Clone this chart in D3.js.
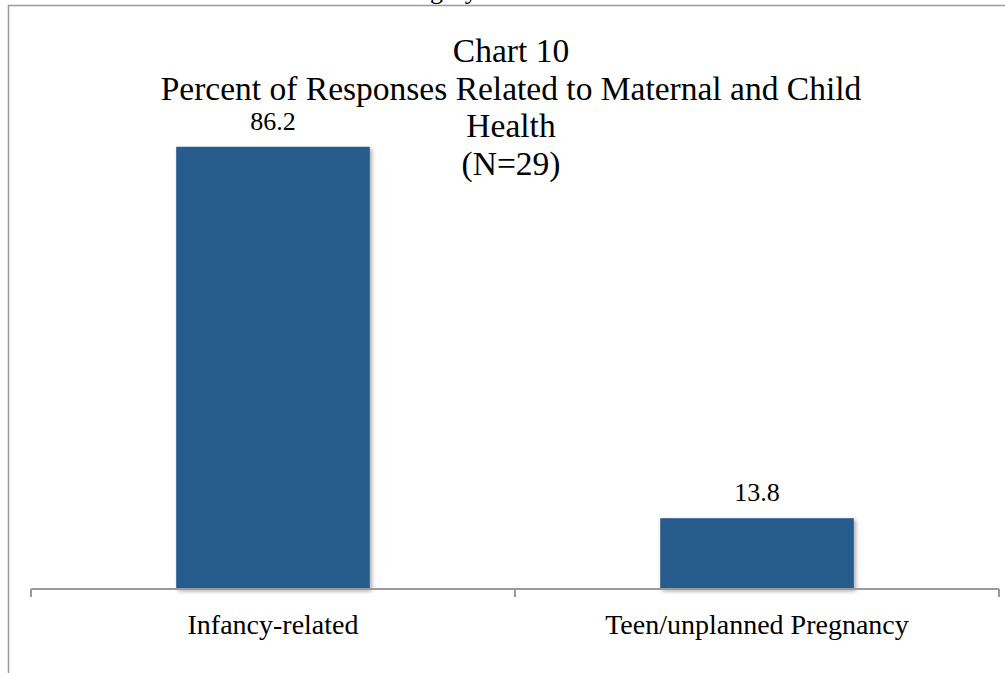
<!DOCTYPE html>
<html>
<head>
<meta charset="utf-8">
<script src="https://cdn.jsdelivr.net/npm/d3@7"></script>
<style>
	body { margin: 0; background: #fff; }
	svg { display: block; }
	text { font-family: "Liberation Serif", "DejaVu Serif", serif; fill: #000; }
</style>
</head>
<body>
<svg width="1005" height="673"></svg>
<script>
// chart values
var categories = ["Infancy-related", "Teen/unplanned Pregnancy"];
var percents = [86.2, 13.8];
var valueLabels = ["86.2", "13.8"];
var titleLines = ["Chart 10", "Percent of Responses Related to Maternal and Child", "Health", "(N=29)"];

var svg = d3.select("svg");

var barColor = "#275b8c";
var axisColor = "#9a9a9a";

var defs = svg.append("defs");
var shadow = defs.append("filter")
	.attr("id", "shadow")
	.attr("x", "-10%").attr("y", "-10%")
	.attr("width", "130%").attr("height", "130%");
shadow.append("feDropShadow")
	.attr("dx", 2).attr("dy", 2)
	.attr("stdDeviation", 2)
	.attr("flood-color", "#000")
	.attr("flood-opacity", 0.35);

// cut-off text from the page above the chart (only descenders show)
svg.append("text")
	.attr("x", 430)
	.attr("y", -1)
	.attr("text-anchor", "middle")
	.attr("font-size", 26)
	.text("Category");

// frame of the chart area
svg.append("rect")
	.attr("x", 8.5)
	.attr("y", 5.5)
	.attr("width", 1010)
	.attr("height", 700)
	.attr("fill", "none")
	.attr("stroke", axisColor)
	.attr("stroke-width", 1.5);

var plotLeft = 31, plotRight = 999, baseY = 589;

var x = d3.scaleBand()
	.domain(categories)
	.range([plotLeft, plotRight])
	.padding(0);

var y = d3.scaleLinear()
	.domain([0, 100])
	.range([baseY, baseY - 513]);

var barW = x.bandwidth() * 0.4;

var g = svg.append("g");

g.selectAll(".bar")
	.data(percents)
	.enter().append("rect")
	.attr("class", "bar")
	.attr("x", function (d, i) { return x(categories[i]) + (x.bandwidth() - barW) / 2; })
	.attr("y", function (d) { return y(d); })
	.attr("width", barW)
	.attr("height", function (d) { return baseY - y(d); })
	.attr("fill", barColor)
	.attr("filter", "url(#shadow)");

g.selectAll(".val")
	.data(percents)
	.enter().append("text")
	.attr("class", "val")
	.attr("x", function (d, i) { return x(categories[i]) + x.bandwidth() / 2; })
	.attr("y", function (d) { return y(d) - 17; })
	.attr("text-anchor", "middle")
	.attr("font-size", 26)
	.text(function (d, i) { return valueLabels[i]; });

// category axis
var axis = svg.append("g")
	.attr("transform", "translate(0," + baseY + ")")
	.call(d3.axisBottom(x).tickSize(0).tickPadding(25));

axis.select(".domain")
	.attr("d", "M" + plotLeft + ",0H" + plotRight)
	.attr("stroke", axisColor)
	.attr("stroke-width", 2);

axis.selectAll(".tick text")
	.attr("font-family", "Liberation Serif, DejaVu Serif, serif")
	.attr("font-size", 28)
	.attr("fill", "#000");

var edges = categories.map(function (c) { return x(c); }).concat([plotRight]);
axis.selectAll(".edge")
	.data(edges)
	.enter().append("line")
	.attr("class", "edge")
	.attr("x1", function (d) { return d; })
	.attr("x2", function (d) { return d; })
	.attr("y1", 0)
	.attr("y2", 8)
	.attr("stroke", axisColor)
	.attr("stroke-width", 2);

// title
svg.append("g").selectAll("text")
	.data(titleLines)
	.enter().append("text")
	.attr("x", 511)
	.attr("y", function (d, i) { return 62 + i * 37.5; })
	.attr("text-anchor", "middle")
	.attr("font-size", 33.5)
	.text(function (d) { return d; });
</script>
</body>
</html>
